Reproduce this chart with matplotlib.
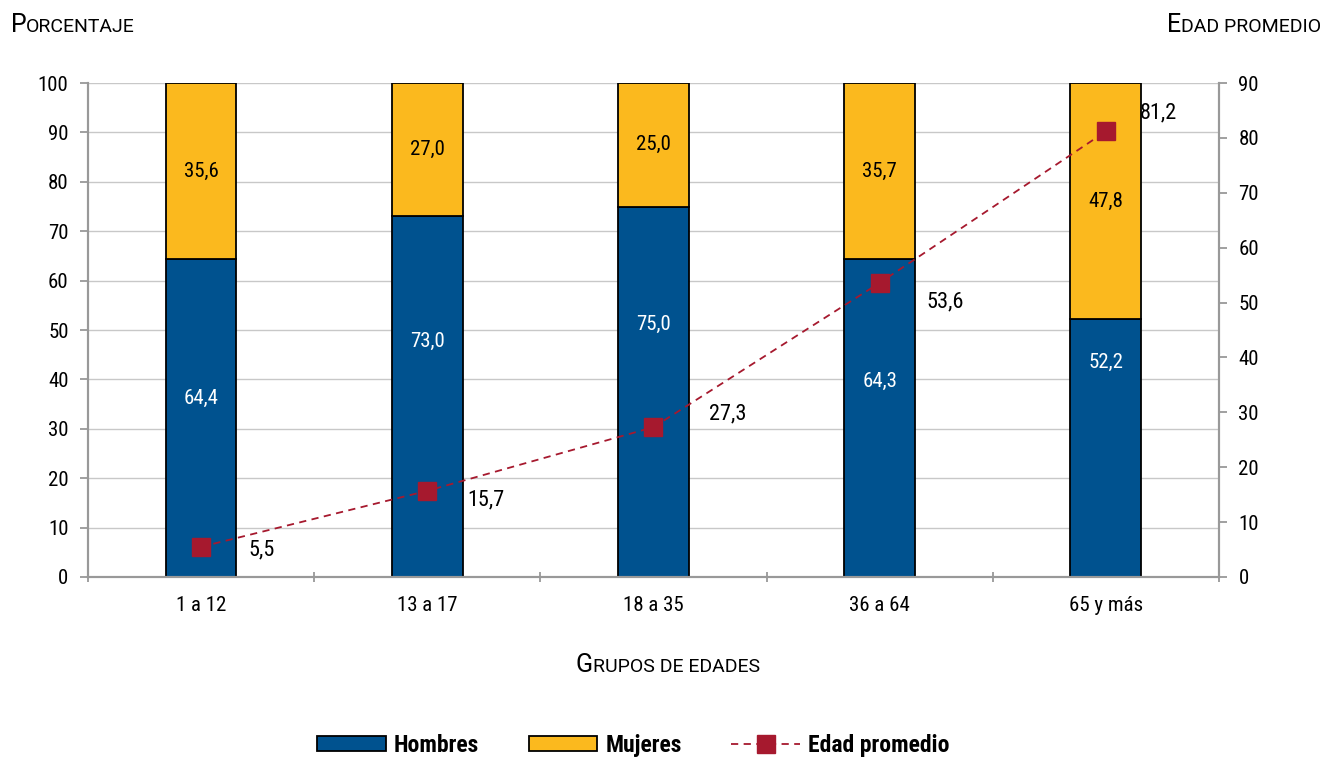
import matplotlib
matplotlib.use("Agg")
import matplotlib.pyplot as plt
from matplotlib.font_manager import fontManager

names = sorted({f.name for f in fontManager.ttflist})
fam = [n for n in ["Roboto Condensed", "Liberation Sans Narrow", "Roboto"] if n in names] + ["DejaVu Sans"]
plt.rcParams["font.family"] = fam
titulo_fam = [n for n in ["Roboto"] if n in names] + ["DejaVu Sans"]

grupos = ["1 a 12", "13 a 17", "18 a 35", "36 a 64", "65 y más"]
hombres = [64.4, 73.0, 75.0, 64.3, 52.2]
mujeres = [35.6, 27.0, 25.0, 35.7, 47.8]
edad_promedio = [5.5, 15.7, 27.3, 53.6, 81.2]

azul = "#00528F"
amarillo = "#FBB91E"
rojo = "#A6192E"

# label layout (heights of the labels inside the blue bars, pixel offsets of line labels)
pos_hombres = [36.2, 47.6, 51.2, 39.7, 43.5]
off_edad = [(61, -3), (59, -9), (74, 13), (65, -19), (52, 18)]

fig = plt.figure(figsize=(13.25, 7.59), dpi=100)
ax = fig.add_axes([0.0664, 0.2398, 0.8536, 0.6508])
ax2 = ax.twinx()

x = list(range(len(grupos)))
w = 0.313
bh = ax.bar(x, hombres, w, color=azul, edgecolor="black", linewidth=1.3, label="Hombres", zorder=2)
bm = ax.bar(x, mujeres, w, bottom=hombres, color=amarillo, edgecolor="black", linewidth=1.3,
            label="Mujeres", zorder=2)

for i in x:
    ax.text(i, pos_hombres[i], f"{hombres[i]:.1f}".replace(".", ","), color="white",
            ha="center", va="center", fontsize=15, zorder=3)
    ax.text(i, hombres[i] + mujeres[i] / 2, f"{mujeres[i]:.1f}".replace(".", ","), color="black",
            ha="center", va="center", fontsize=15, zorder=3)

ln, = ax2.plot(x, edad_promedio, color=rojo, linestyle=(0, (4, 3)), linewidth=1.3,
               marker="s", markersize=13, markerfacecolor=rojo, markeredgecolor=rojo,
               label="Edad promedio", zorder=4)
for i in x:
    ax2.annotate(f"{edad_promedio[i]:.1f}".replace(".", ","), (i, edad_promedio[i]),
                 xytext=off_edad[i], textcoords="offset pixels", ha="center", va="center",
                 fontsize=16, color="black")

ax.set_xlim(-0.5, len(grupos) - 0.5)
ax.set_ylim(0, 100)
ax2.set_ylim(0, 90)
ax.set_yticks(range(0, 101, 10))
ax2.set_yticks(range(0, 91, 10))
ax.set_xticks(x)
ax.set_xticklabels(grupos, fontsize=15)
ax.set_xticks([i - 0.5 for i in range(len(grupos) + 1)], minor=True)
ax.tick_params(axis="x", which="major", length=0, pad=14)
ax.tick_params(axis="x", which="minor", length=7, width=1.3, color="#999999", direction="inout")
ax.tick_params(axis="y", labelsize=15, length=6, width=1.3, color="#999999", pad=8)
ax2.tick_params(axis="y", labelsize=15, length=6, width=1.3, color="#999999", pad=8)
ax.yaxis.grid(True, color="#C8C8C8", linewidth=1)
ax.set_axisbelow(True)

for a in (ax, ax2):
    a.spines["top"].set_visible(False)
    for s in ("left", "right", "bottom"):
        a.spines[s].set_color("#999999")
        a.spines[s].set_linewidth(1.5)
ax2.patch.set_visible(False)


def small_caps(xf, yf, text, ha="left", big=18, small=14):
    # first letter full size, rest as smaller capitals
    r = fig.canvas.get_renderer()
    t1 = fig.text(xf, yf, text[0], fontsize=big, va="baseline", family=titulo_fam)
    t2 = fig.text(xf, yf, text[1:].upper(), fontsize=small, va="baseline", family=titulo_fam)
    w1 = t1.get_window_extent(r).width / fig.bbox.width
    w2 = t2.get_window_extent(r).width / fig.bbox.width
    x0 = xf if ha == "left" else (xf - (w1 + w2) / 2 if ha == "center" else xf - w1 - w2)
    t1.set_x(x0)
    t2.set_x(x0 + w1)


small_caps(0.008, 0.958, "Porcentaje")
small_caps(0.997, 0.958, "Edad promedio", ha="right")
small_caps(0.504, 0.115, "Grupos de edades", ha="center")

fig.legend(handles=[bh, bm, ln], loc="center", bbox_to_anchor=(0.478, 0.018), ncol=3,
           frameon=False, prop={"size": 17, "weight": "bold"}, handlelength=2.9,
           handleheight=0.55, columnspacing=2.1, handletextpad=0.35)

fig.savefig("out.png", dpi=100)
